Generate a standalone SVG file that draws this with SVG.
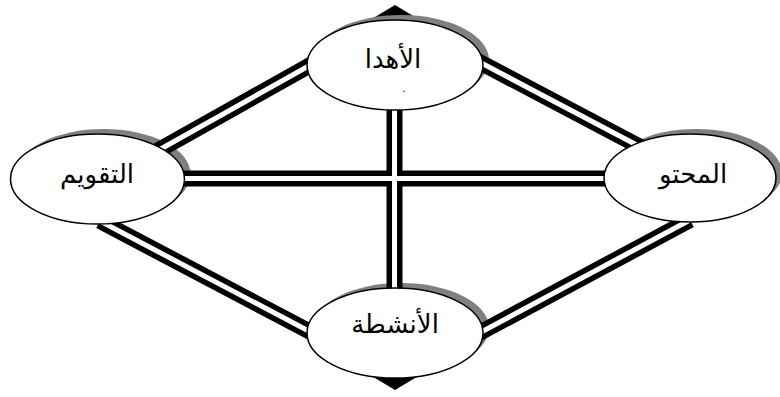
<svg xmlns="http://www.w3.org/2000/svg" width="780" height="397" viewBox="0 0 780 397">
<style>
.shadow{fill:#808080;stroke:none}
.node{fill:#fff;stroke:#000;stroke-width:1.5}
.outer{stroke:#000;stroke-width:16;fill:none}
.inner{stroke:#fff;stroke-width:5;fill:none}
.lbl{font-family:"DejaVu Sans","Liberation Sans",sans-serif;font-size:26px;fill:#000;text-anchor:middle}
</style>
<rect width="780" height="397" fill="#fff"/>
<g id="markers">
<polygon points="395,5 420,20 395,35 370,20" fill="#000"/>
<polygon points="395,390 420,375 395,360 370,375" fill="#000"/>
</g>
<g id="shadows">
<ellipse class="shadow" cx="401" cy="60" rx="88" ry="45"/>
<ellipse class="shadow" cx="103.5" cy="174" rx="87" ry="45"/>
<ellipse class="shadow" cx="696" cy="173" rx="86" ry="44"/>
<ellipse class="shadow" cx="401" cy="328" rx="88" ry="45"/>
</g>
<g id="connectors">
<g class="outer">
<line x1="150" y1="155" x2="330" y2="54"/>
<line x1="470" y1="57" x2="650" y2="152"/>
<line x1="100" y1="221" x2="320" y2="337"/>
<line x1="470" y1="338" x2="690" y2="220"/>
<line x1="150" y1="178.5" x2="640" y2="178.5"/>
<line x1="394.5" y1="90" x2="394.5" y2="310"/>
</g>
<g class="inner">
<line x1="150" y1="155" x2="330" y2="54"/>
<line x1="470" y1="57" x2="650" y2="152"/>
<line x1="100" y1="221" x2="320" y2="337"/>
<line x1="470" y1="338" x2="690" y2="220"/>
<line x1="150" y1="178.5" x2="640" y2="178.5"/>
<line x1="394.5" y1="90" x2="394.5" y2="310"/>
</g>
</g>
<g id="node-top">
<ellipse class="node" cx="395" cy="65" rx="88" ry="45"/>
<text class="lbl" x="393" y="68">الأهدا</text>
<text x="404" y="92" font-family="DejaVu Sans, sans-serif" font-size="10" text-anchor="middle">.</text>
</g>
<g id="node-left">
<ellipse class="node" cx="97.5" cy="179" rx="87" ry="45"/>
<text class="lbl" x="97" y="183">التقويم</text>
</g>
<g id="node-right">
<ellipse class="node" cx="690" cy="178" rx="86" ry="44"/>
<text class="lbl" x="693" y="183">المحتو</text>
</g>
<g id="node-bottom">
<ellipse class="node" cx="395" cy="333" rx="88" ry="45"/>
<text class="lbl" x="395" y="333">الأنشطة</text>
</g>
</svg>
